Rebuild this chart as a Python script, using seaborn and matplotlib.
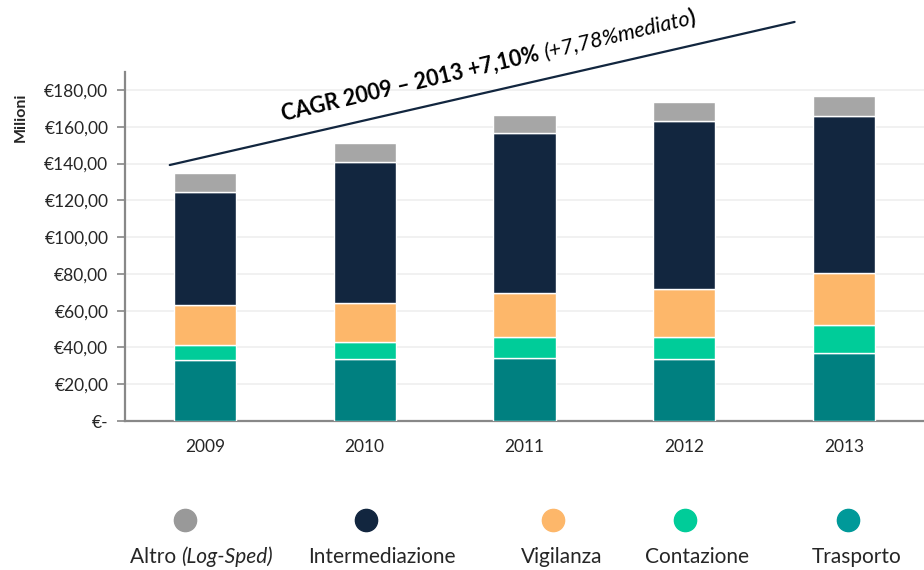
import numpy as np
import pandas as pd
import seaborn as sns
import matplotlib.pyplot as plt

# dati (milioni di euro)
anni = ['2009', '2010', '2011', '2012', '2013']
trasporto = [33.2, 33.7, 34.1, 33.5, 36.8]
contazione = [8.2, 9.1, 11.4, 12.0, 15.4]
vigilanza = [21.5, 21.4, 24.3, 26.1, 28.4]
intermediazione = [61.8, 76.8, 86.6, 91.7, 85.2]
altro = [10.2, 10.2, 10.0, 10.3, 11.1]

serie = ['Trasporto', 'Contazione', 'Vigilanza', 'Intermediazione', 'Altro']
colori = ['#008080', '#00cc99', '#fdb76a', '#12263f', '#a6a6a6']
yticks = [0, 20, 40, 60, 80, 100, 120, 140, 160, 180]
ytick_labels = ['€-', '€20,00', '€40,00', '€60,00', '€80,00', '€100,00',
                '€120,00', '€140,00', '€160,00', '€180,00']

# linea CAGR (inizio / fine, coordinate dati)
cagr_x = [-0.22, 3.69]
cagr_y = [139.2, 217.0]

df = pd.DataFrame({'anno': anni, 'Trasporto': trasporto, 'Contazione': contazione,
                   'Vigilanza': vigilanza, 'Intermediazione': intermediazione,
                   'Altro': altro})

sns.set_style('white')
plt.rcParams['font.family'] = ['Lato', 'DejaVu Sans']

fig = plt.figure(figsize=(9.24, 5.70), dpi=100)
ax = fig.add_axes([0.1353, 0.2614, 0.8647, 0.613])

base = np.zeros(len(anni))
for s, c in zip(serie, colori):
    sns.barplot(data=df, x='anno', y=s, bottom=base, color=c, width=0.39,
                saturation=1, edgecolor='white', linewidth=1, ax=ax, zorder=3)
    base = base + df[s].values

ax.set_xlim(-0.5, 4.5)
ax.set_ylim(0, 190)
ax.set_yticks(yticks)
ax.set_yticklabels(ytick_labels, fontsize=12.5)
ax.set_xticks(range(len(anni)))
ax.set_xticklabels(anni, fontsize=12.5)
ax.set_xticks(np.arange(-0.5, 4.6, 1), minor=True)
ax.tick_params(axis='x', which='major', length=0, pad=13)
ax.tick_params(axis='x', which='minor', length=6, width=1.2, color='#888888', direction='out')
ax.tick_params(axis='y', length=6, width=1.2, color='#888888', direction='out', left=True, pad=6)
ax.set_xlabel('')
ax.set_ylabel('Milioni', fontsize=11.5, fontweight='bold')
ax.yaxis.set_label_coords(-0.122, 0.87)
ax.grid(axis='y', color='#efefef', linewidth=1.2, zorder=0)
for side in ['top', 'right']:
    ax.spines[side].set_visible(False)
for side in ['left', 'bottom']:
    ax.spines[side].set_color('#888888')
    ax.spines[side].set_linewidth(1.6)

ax.plot(cagr_x, cagr_y, color='#12263f', linewidth=1.6, clip_on=False, zorder=4)

# testo CAGR con stili misti, lungo la linea
renderer = fig.canvas.get_renderer()


def misura(txt, **kw):
    t = fig.text(0, 0, txt, **kw)
    w = t.get_window_extent(renderer).width
    t.remove()
    return w


def testo_misto(x0, y0, pezzi, angolo, size):
    ca, sa = np.cos(np.radians(angolo)), np.sin(np.radians(angolo))
    pos = 0.0
    for txt, stile, peso in pezzi:
        kw = dict(fontsize=size, fontstyle=stile, fontweight=peso)
        fig.text((x0 + pos * ca) / fig.bbox.width, (y0 + pos * sa) / fig.bbox.height,
                 txt, rotation=angolo, rotation_mode='anchor', ha='left',
                 va='baseline', color='black', **kw)
        pos += misura(txt, **kw)


testo_misto(283, 570 - 121,
            [('CAGR 2009 – 2013 +7,10% ', 'normal', 'bold'),
             ('(+7,78%mediato', 'italic', 'normal'),
             (')', 'normal', 'bold')], 13.3, 15.5)

# legenda
leg_x = [185, 366, 553, 685, 848]
leg_lab_x = [130, 382, 562, 697, 857]
leg_col = ['#999999', '#12263f', '#fdb76a', '#00cc99', '#009999']
leg_lab = ['Intermediazione', 'Vigilanza', 'Contazione', 'Trasporto']
for i, (x, c) in enumerate(zip(leg_x, leg_col)):
    fig.add_artist(plt.Line2D([x / 924], [1 - 520 / 570], marker='o', markersize=16,
                              color=c, linestyle='none'))
for x, lab in zip(leg_lab_x[1:], leg_lab):
    fig.text(x / 924, 1 - 557 / 570, lab, ha='center', va='center', fontsize=15)
w1 = misura('Altro ', fontsize=15)
fig.text(130 / 924, 1 - 557 / 570, 'Altro ', ha='left', va='center', fontsize=15)
fig.text((130 + w1) / 924, 1 - 557 / 570, '(Log-Sped)', ha='left', va='center',
         fontsize=15, fontstyle='italic')

fig.savefig('out.png', dpi=100)
